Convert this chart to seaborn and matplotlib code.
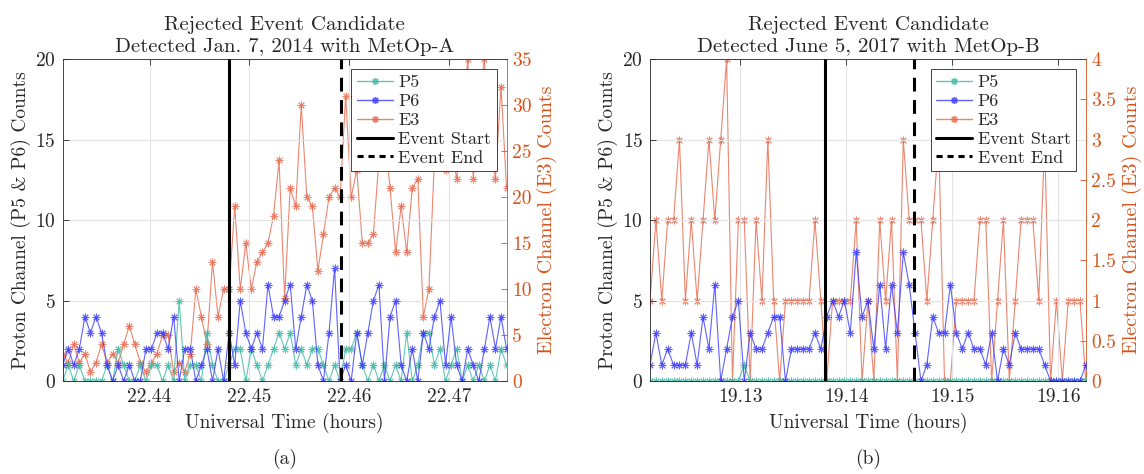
import numpy as np
import pandas as pd
import matplotlib
matplotlib.use("Agg")
import matplotlib.pyplot as plt
from matplotlib.lines import Line2D
from matplotlib.ticker import FormatStrFormatter
import seaborn as sns

# 2 s cadence of the SEM-2 counts, in hours
DT = 2 / 3600

# --- panel (a) : MetOp-A, Jan. 7 2014 ---
A_T0 = 22.4313
A_P5 = [0, 1, 0, 1, 0, 0, 0, 0, 1, 0, 2, 1, 0, 0, 1, 0, 1, 1, 0, 1,
        0, 5, 0, 1, 1, 0, 3, 1, 0, 0, 1, 2, 2, 0, 2, 1, 0, 1, 2, 3,
        2, 3, 1, 2, 1, 2, 2, 1, 0, 1, 0, 2, 2, 3, 1, 0, 1, 0, 1, 0,
        1, 0, 3, 0, 1, 3, 3, 1, 2, 0, 1, 2, 0, 1, 0, 1, 0, 1, 0, 2, 1]
A_P6 = [1, 2, 1, 2, 4, 3, 4, 3, 1, 0, 1, 0, 1, 0, 0, 2, 2, 3, 3, 2,
        4, 0, 2, 2, 0, 1, 2, 0, 2, 0, 3, 1, 5, 3, 2, 3, 2, 6, 4, 4,
        5, 6, 2, 4, 6, 5, 1, 0, 3, 7, 0, 1, 0, 3, 1, 3, 5, 6, 0, 4,
        5, 1, 0, 2, 0, 3, 2, 4, 5, 1, 4, 1, 0, 2, 1, 0, 2, 4, 2, 4, 2]
A_E3 = [3, 2, 4, 2, 3, 1, 2, 4, 2, 3, 2, 4, 6, 4, 2, 1, 2, 3, 5, 5,
        1, 2, 1, 3, 10, 7, 4, 13, 7, 10, 10, 19, 10, 15, 10, 13, 14, 15, 18, 24,
        9, 21, 19, 30, 20, 19, 12, 16, 20, 21, 20, 31, 20, 23, 15, 15, 16, 24, 27, 21,
        14, 19, 14, 21, 22, 7, 10, 24, 28, 23, 26, 22, 27, 35, 22, 30, 35, 26, 22, 32, 21]
A_START = 22.4480
A_END = 22.4592
A_XTICKS = [22.44, 22.45, 22.46, 22.47]
A_E3_TICKS = [0, 5, 10, 15, 20, 25, 30, 35]
A_TITLE = "Rejected Event Candidate\nDetected Jan. 7, 2014 with MetOp-A"

# --- panel (b) : MetOp-B, June 5 2017 ---
B_T0 = 19.1215
B_P5 = [0] * 16 + [1] + [0] * 58
B_P6 = [1, 3, 1, 2, 1, 1, 1, 3, 1, 4, 2, 6, 0, 2, 4, 5, 0, 3, 2, 2,
        3, 4, 4, 0, 2, 2, 2, 2, 3, 2, 4, 5, 4, 5, 3, 8, 4, 5, 2, 6,
        2, 6, 3, 8, 6, 3, 0, 1, 4, 3, 3, 6, 3, 2, 3, 2, 2, 1, 3, 0,
        2, 1, 3, 2, 2, 2, 2, 1, 0, 0, 0, 0, 0, 0, 1]
B_E3 = [1, 2, 1, 2, 2, 3, 1, 2, 1, 2, 3, 2, 3, 4, 0, 2, 2, 0, 2, 1,
        3, 1, 0, 1, 1, 1, 1, 1, 2, 1, 0, 1, 1, 1, 1, 2, 0, 1, 0, 2,
        1, 2, 0, 3, 2, 2, 2, 1, 2, 3, 0, 0, 1, 1, 1, 1, 2, 2, 0, 1,
        2, 0, 1, 2, 2, 2, 1, 3, 0, 1, 0, 1, 1, 1, 0]
B_START = 19.1380
B_END = 19.1464
B_XTICKS = [19.13, 19.14, 19.15, 19.16]
B_E3_TICKS = [0, 0.5, 1, 1.5, 2, 2.5, 3, 3.5, 4]
B_TITLE = "Rejected Event Candidate\nDetected June 5, 2017 with MetOp-B"

C_P5 = "#3DB8A4"
C_P6 = "#3A3AFF"
C_E3 = "#E6684C"
C_RED = "#D95319"
AXC = "#262626"

sns.set_style("white")
plt.rcParams["font.family"] = ["cmr10", "DejaVu Serif"]
plt.rcParams["axes.formatter.use_mathtext"] = True
plt.rcParams["font.size"] = 13

STAR = (8, 2, 0)
LINE_KW = dict(marker=STAR, markersize=5.5, markeredgewidth=0.7, linewidth=0.8,
               alpha=0.8, errorbar=None, sort=False, legend=False)


def draw_panel(ax, t0, p5, p6, e3, t_start, t_end, xticks, e3_ticks, title, caption):
    t = t0 + np.arange(len(p5)) * DT
    df = pd.DataFrame({"t": t, "P5": p5, "P6": p6, "E3": e3})

    ax2 = ax.twinx()
    ax.set_zorder(ax2.get_zorder() + 1)
    ax.patch.set_visible(False)

    sns.lineplot(data=df, x="t", y="E3", ax=ax2, color=C_E3, mec=C_E3, **LINE_KW)
    sns.lineplot(data=df, x="t", y="P5", ax=ax, color=C_P5, mec=C_P5, **LINE_KW)
    sns.lineplot(data=df, x="t", y="P6", ax=ax, color=C_P6, mec=C_P6, **LINE_KW)
    ax.axvline(t_start, color="k", lw=2.2)
    ax.axvline(t_end, color="k", lw=2.2, ls=(0, (4.5, 2.8)))

    ax.set_xlim(t[0], t[-1])
    ax.set_ylim(0, 20)
    ax.set_yticks([0, 5, 10, 15, 20])
    ax.set_xticks(xticks)
    ax.xaxis.set_major_formatter(FormatStrFormatter("%.2f"))
    ax2.set_ylim(0, e3_ticks[-1])
    ax2.set_yticks(e3_ticks)
    ax2.set_yticklabels([f"{v:g}" for v in e3_ticks])

    ax.grid(True, color="#e3e3e3", lw=0.8)
    ax.set_axisbelow(True)

    ax.tick_params(direction="in", top=True, right=False, length=4, width=0.6,
                   colors=AXC, labelsize=14, pad=5)
    ax2.tick_params(direction="in", length=4, width=0.6, colors=C_RED,
                    labelsize=14, pad=4)
    for s in ["left", "top", "bottom"]:
        ax.spines[s].set_color(AXC)
        ax.spines[s].set_linewidth(0.6)
        ax2.spines[s].set_visible(False)
    ax.spines["right"].set_visible(False)
    ax2.spines["right"].set_color(C_RED)
    ax2.spines["right"].set_linewidth(0.6)

    ax.set_title(title, fontsize=15, pad=5, linespacing=1.3)
    ax.set_xlabel("Universal Time (hours)", fontsize=14, labelpad=5)
    ax.set_ylabel("Proton Channel (P5 & P6) Counts", fontsize=14, labelpad=3)
    ax2.set_ylabel("Electron Channel (E3) Counts", fontsize=14.5, color=C_RED, labelpad=4)

    handles = [
        Line2D([], [], color=C_P5, marker=STAR, markersize=5, lw=1, alpha=0.8),
        Line2D([], [], color=C_P6, marker=STAR, markersize=5, lw=1, alpha=0.8),
        Line2D([], [], color=C_E3, marker=STAR, markersize=5, lw=1, alpha=0.8),
        Line2D([], [], color="k", lw=2.2),
        Line2D([], [], color="k", lw=2.2, ls=(0, (2, 1.6))),
    ]
    leg = ax.legend(handles, ["P5", "P6", "E3", "Event Start", "Event End"],
                    loc="upper right", fontsize=13, handlelength=2.0,
                    handletextpad=0.3, labelspacing=0.18, borderpad=0.3,
                    borderaxespad=0.55, fancybox=False, framealpha=1)
    leg.get_frame().set_edgecolor(AXC)
    leg.get_frame().set_linewidth(0.6)

    pos = ax.get_position()
    ax.figure.text((pos.x0 + pos.x1) / 2, 0.022, caption, ha="center", fontsize=14)


fig = plt.figure(figsize=(11.44, 4.74), dpi=100)
ax_a = fig.add_axes([0.0548, 0.196, 0.388, 0.679])
ax_b = fig.add_axes([0.5682, 0.196, 0.381, 0.679])

draw_panel(ax_a, A_T0, A_P5, A_P6, A_E3, A_START, A_END, A_XTICKS, A_E3_TICKS, A_TITLE, "(a)")
draw_panel(ax_b, B_T0, B_P5, B_P6, B_E3, B_START, B_END, B_XTICKS, B_E3_TICKS, B_TITLE, "(b)")

fig.savefig("out.png", dpi=100)
